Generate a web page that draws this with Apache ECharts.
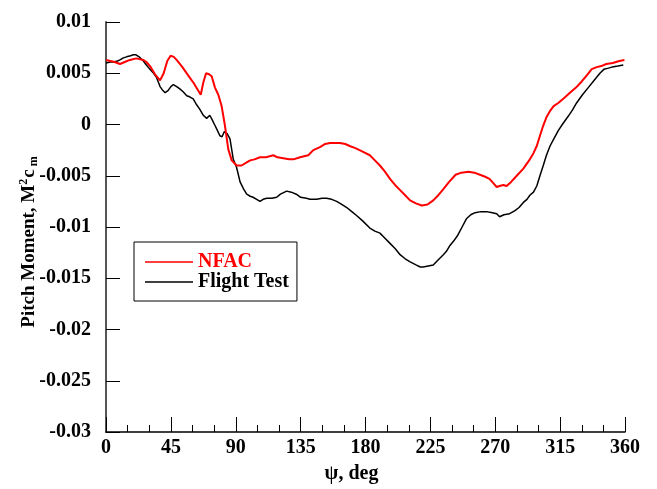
<!DOCTYPE html>
<html>
<head>
<meta charset="utf-8">
<script src="https://cdn.jsdelivr.net/npm/echarts@6/dist/echarts.min.js"></script>
<style>
html,body{margin:0;padding:0;background:#fff;}
#chart{width:657px;height:489px;}
</style>
</head>
<body>
<div id="chart"></div>
<script>
// x tick labels (deg) and y tick range
const xTicks = [0, 45, 90, 135, 180, 225, 270, 315, 360];
const yTicks = [-0.03, -0.025, -0.02, -0.015, -0.01, -0.005, 0, 0.005, 0.01];

// NFAC series
const nfacPsi = [0,3,6,9.7,13,16.6,21,25.8,28,30.5,34,37.5,40,42.5,44.8,47,49,53,57,61,65.7,67.5,69.4,71.5,73.3,75.6,77.9,80.2,82.5,84.8,87.2,90.6,94,97.6,100,103,106.8,111,116,119,123,127,130,134.6,140.3,143.8,148.4,152,155.4,159,162.3,166,169,173,177.3,183,186.5,190,193.5,197,200.5,204,207.5,210.9,215,219,223,227,230.5,234,238,242.5,246.5,251.5,255.5,259.4,263,266,268.5,271,273,275.6,277.9,281,284.9,289.5,294,296.5,298.8,301,303.3,305.5,307.9,310.5,313.7,318,321.8,326,330,333.5,336.9,340.4,343.5,347,351.5,356,359.6];
const nfacCm = [0.0063,0.0062,0.0061,0.0059,0.0061,0.0063,0.00645,0.0063,0.0061,0.0057,0.0049,0.0043,0.0050,0.0062,0.0067,0.0066,0.0063,0.0056,0.0048,0.0040,0.0029,0.0041,0.0050,0.0049,0.0047,0.0036,0.0029,0.0018,-0.0001,-0.0024,-0.0035,-0.0040,-0.0040,-0.0037,-0.0035,-0.0034,-0.0032,-0.0032,-0.0030,-0.0032,-0.0033,-0.0034,-0.0034,-0.0032,-0.0030,-0.0025,-0.0022,-0.0019,-0.0018,-0.0018,-0.0018,-0.0019,-0.0021,-0.0023,-0.0026,-0.0030,-0.0035,-0.0040,-0.0046,-0.0053,-0.0059,-0.0064,-0.0069,-0.0074,-0.0077,-0.0079,-0.0078,-0.0074,-0.0069,-0.0063,-0.0056,-0.0049,-0.0047,-0.0046,-0.0047,-0.0049,-0.0051,-0.0053,-0.0057,-0.0061,-0.0060,-0.0059,-0.0060,-0.0056,-0.0050,-0.0043,-0.0034,-0.0028,-0.0021,-0.0011,-0.0001,0.0007,0.0013,0.0018,0.0021,0.0026,0.0031,0.0036,0.0042,0.0048,0.0054,0.0056,0.0057,0.0059,0.0060,0.0062,0.0063];

// Flight Test series
const flightPsi = [0,3,5,8,9.7,12,14.3,17,19,20.8,23,25.9,28,30.5,33,35,37.5,39,41,43,45,46.7,49,51,53.5,56,58,60.5,62.5,65,67.5,69.8,72,73.5,75.6,77,79,80.5,82,84,86,88.3,90.6,93,95.5,97.6,100,102,104.5,106.8,109,111.5,115,118.4,121,125.3,128.5,132,135,139,141.5,146,150,153,156.5,160,163.5,167,170.5,174,178,183,186.5,190,193.5,197,200.5,204,207.5,211,215,218,220,223.5,227,230.5,234,236,238.6,241,244,247,250,253,256,260,264,268,271,273,276,280,283.7,286.5,289.5,292,294,296.5,298.8,301,303.3,305.5,308,311,313.7,317,320.6,323.5,326.4,330.5,334.5,338.5,342.6,345.5,348.4,351,355,358.8];
const flightCm = [0.0060,0.0061,0.0061,0.0062,0.0063,0.0065,0.0066,0.0067,0.0068,0.0068,0.0066,0.0062,0.0058,0.0054,0.0050,0.0046,0.0037,0.0034,0.0031,0.0033,0.0037,0.0039,0.0037,0.0035,0.0032,0.0028,0.0027,0.0025,0.0020,0.0015,0.0009,0.0006,0.0009,0.0005,-0.0001,-0.0005,-0.0011,-0.0012,-0.0007,-0.0009,-0.0014,-0.0034,-0.0042,-0.0056,-0.0063,-0.0068,-0.0070,-0.0071,-0.0073,-0.0075,-0.0073,-0.0072,-0.0072,-0.0071,-0.0068,-0.0065,-0.0066,-0.0068,-0.0071,-0.0072,-0.0073,-0.0073,-0.0072,-0.0072,-0.0073,-0.0075,-0.0078,-0.0081,-0.0085,-0.0089,-0.0094,-0.0101,-0.0104,-0.0106,-0.0111,-0.0116,-0.0121,-0.0127,-0.0131,-0.0134,-0.0137,-0.0139,-0.0139,-0.0138,-0.0137,-0.0132,-0.0127,-0.0124,-0.0118,-0.0114,-0.0108,-0.0100,-0.0092,-0.0088,-0.0086,-0.0085,-0.0085,-0.0086,-0.0087,-0.0090,-0.0088,-0.0087,-0.0084,-0.0081,-0.0076,-0.0073,-0.0069,-0.0066,-0.0060,-0.0050,-0.0040,-0.0030,-0.0021,-0.0013,-0.0006,0.0001,0.0008,0.0014,0.0021,0.0029,0.0036,0.0043,0.0050,0.0054,0.0055,0.0056,0.0057,0.0058];

const seriesNames = ['NFAC', 'Flight Test'];

const FONT = 'Liberation Serif';
const zip = (a, b) => a.map((v, i) => [v, b[i]]);

const chart = echarts.init(document.getElementById('chart'), null, {renderer: 'canvas'});
chart.setOption({
  animation: false,
  backgroundColor: '#fff',
  grid: {left: 106, right: 32, top: 22, bottom: 54, containLabel: false},
  legend: {
    left: 134, top: 242,
    orient: 'vertical',
    icon: 'rect',
    itemWidth: 48, itemHeight: 1.5,
    itemGap: 0,
    padding: [10, 8, 9, 11],
    borderColor: '#000', borderWidth: 1,
    textStyle: {fontFamily: FONT, fontWeight: 'bold', fontSize: 20, lineHeight: 18},
    data: [
      {name: seriesNames[0], textStyle: {color: '#ff0000'}},
      {name: seriesNames[1], textStyle: {color: '#000'}}
    ]
  },
  xAxis: {
    type: 'value', min: xTicks[0], max: xTicks[xTicks.length - 1], interval: 45,
    name: 'ψ, deg', nameLocation: 'middle', nameGap: 32, nameMoveOverlap: false,
    nameTextStyle: {fontFamily: FONT, fontWeight: 'bold', fontSize: 20, color: '#000', padding: [0, 28, 0, 0]},
    axisLine: {onZero: false, lineStyle: {color: '#000', width: 1.5}},
    axisTick: {inside: true, length: 15, lineStyle: {color: '#000', width: 1}},
    minorTick: {show: true, splitNumber: 3, length: 7, lineStyle: {color: '#000', width: 1}},
    splitLine: {show: false},
    axisLabel: {fontFamily: FONT, fontWeight: 'bold', fontSize: 20, color: '#000', margin: 6}
  },
  yAxis: {
    type: 'value', min: yTicks[0], max: yTicks[yTicks.length - 1], interval: 0.005,
    name: 'Pitch Moment, M{sup|2}c{sub|m}', nameLocation: 'middle', nameGap: 66, nameRotate: 90,
    nameMoveOverlap: false,
    nameTextStyle: {
      fontFamily: FONT, fontWeight: 'bold', fontSize: 19, color: '#000',
      padding: [0, 30, 0, 0],
      rich: {
        sup: {fontFamily: FONT, fontWeight: 'bold', fontSize: 12, verticalAlign: 'top', padding: [0, 1, 8, 0]},
        sub: {fontFamily: FONT, fontWeight: 'bold', fontSize: 12, verticalAlign: 'bottom', padding: [10, 0, 0, 3]}
      }
    },
    axisLine: {show: true, onZero: false, lineStyle: {color: '#555', width: 2}},
    axisTick: {show: true, inside: true, length: 14, lineStyle: {color: '#000', width: 1}},
    splitLine: {show: false},
    axisLabel: {
      fontFamily: FONT, fontWeight: 'bold', fontSize: 20, color: '#000', margin: 15,
      formatter: v => String(+v.toFixed(3))
    }
  },
  series: [
    {name: seriesNames[0], type: 'line', data: zip(nfacPsi, nfacCm), showSymbol: false, symbol: 'none',
     lineStyle: {color: '#ff0000', width: 2}, itemStyle: {color: '#ff0000'}, z: 3},
    {name: seriesNames[1], type: 'line', data: zip(flightPsi, flightCm), showSymbol: false, symbol: 'none',
     lineStyle: {color: '#000', width: 1.5}, itemStyle: {color: '#000'}, z: 2}
  ]
});
</script>
</body>
</html>
